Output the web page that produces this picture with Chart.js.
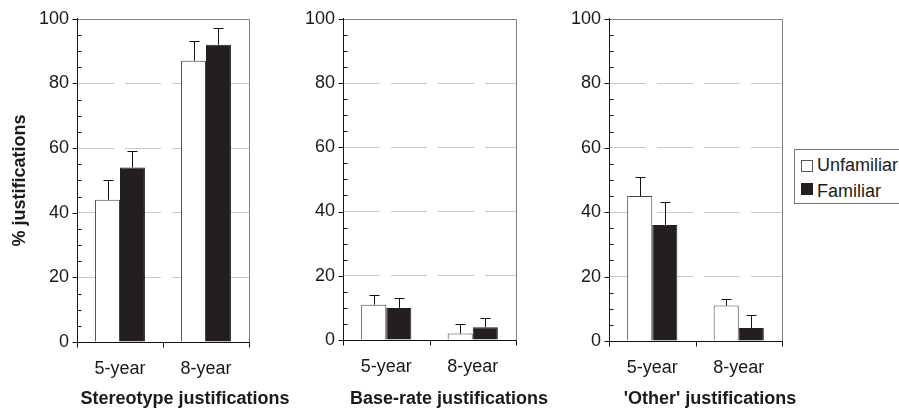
<!DOCTYPE html>
<html>
<head>
<meta charset="utf-8">
<script src="https://cdn.jsdelivr.net/npm/chart.js@4.4.1/dist/chart.umd.min.js"></script>
<style>
html,body{margin:0;padding:0;background:#fff;}
body{width:899px;height:410px;position:relative;overflow:hidden;font-family:"Liberation Sans",Arial,sans-serif;color:#1a1a1a;}
.pc{position:absolute;top:0;height:410px;}
.xt{position:absolute;top:388px;font-weight:bold;font-size:18px;line-height:20px;white-space:nowrap;transform:translateX(-50%);}
#legend{position:absolute;left:794px;top:149px;width:130px;height:53px;border:1px solid #777;background:#fff;}
.sw{position:absolute;width:10px;height:10px;}
.lt{position:absolute;font-size:18px;line-height:20px;white-space:nowrap;}
</style>
</head>
<body>
<div class="pc" style="left:0;width:260px"><canvas id="c1"></canvas></div>
<div class="pc" style="left:300px;width:230px"><canvas id="c2"></canvas></div>
<div class="pc" style="left:560px;width:230px"><canvas id="c3"></canvas></div>
<div class="xt" id="t1" style="left:185px"></div>
<div class="xt" id="t2" style="left:449px"></div>
<div class="xt" id="t3" style="left:710px"></div>
<div id="legend"></div>
<script>
// ---- data ----
const categories = ['5-year', '8-year'];
const seriesNames = ['Unfamiliar', 'Familiar'];
const panelTitles = ['Stereotype justifications', 'Base-rate justifications', "'Other' justifications"];
const yAxisTitle = '% justifications';
const yTicks = [0, 20, 40, 60, 80, 100];

const stereotypeUnfamiliar = [44, 87];
const stereotypeFamiliar = [54, 92];
const stereotypeUnfamiliarErr = [6, 6];
const stereotypeFamiliarErr = [5, 5];

const baseRateUnfamiliar = [11, 2];
const baseRateFamiliar = [10, 4];
const baseRateUnfamiliarErr = [3, 3];
const baseRateFamiliarErr = [3, 3];

const otherUnfamiliar = [45, 11];
const otherFamiliar = [36, 4];
const otherUnfamiliarErr = [6, 2];
const otherFamiliarErr = [7, 4];

// ---- drawing ----
const FONT = '"Liberation Sans", Arial, sans-serif';

const decorPlugin = {
  id: 'decor',
  afterDatasetsDraw(chart) {
    const ctx = chart.ctx;
    const ys = chart.scales.y;
    const errs = chart.options.plugins.decor.errors;
    ctx.save();
    ctx.strokeStyle = '#111';
    ctx.lineWidth = 1;
    chart.data.datasets.forEach((ds, i) => {
      const meta = chart.getDatasetMeta(i);
      meta.data.forEach((el, j) => {
        const v = ds.data[j];
        const top = ys.getPixelForValue(v + errs[i][j]);
        const x = Math.round(el.x) + 0.5;
        ctx.beginPath();
        ctx.moveTo(x, el.y);
        ctx.lineTo(x, Math.round(top) + 0.5);
        ctx.moveTo(x - 5, Math.round(top) + 0.5);
        ctx.lineTo(x + 5, Math.round(top) + 0.5);
        ctx.stroke();
      });
    });
    ctx.restore();
  },
  afterDraw(chart) {
    const ctx = chart.ctx;
    const a = chart.chartArea;
    const ys = chart.scales.y;
    const L = Math.round(a.left) + 0.5, R = Math.round(a.right) + 0.5;
    const T = Math.round(a.top) + 0.5, B = Math.round(a.bottom) + 0.5;
    ctx.save();
    ctx.lineWidth = 1;
    ctx.strokeStyle = '#808080';
    ctx.beginPath();
    ctx.moveTo(L, T); ctx.lineTo(R, T); ctx.lineTo(R, B);
    ctx.stroke();
    ctx.strokeStyle = '#111';
    ctx.beginPath();
    for (let v = 0; v <= 100; v += 5) {
      const y = Math.round(ys.getPixelForValue(v)) + 0.5;
      if (v % 20 === 0) { ctx.moveTo(L - 5, y); ctx.lineTo(L, y); }
      else { ctx.moveTo(L, y); ctx.lineTo(L + 4, y); }
    }
    const M = Math.round((a.left + a.right) / 2) + 0.5;
    [L, M, R].forEach(x => { ctx.moveTo(x, B); ctx.lineTo(x, B + 5); });
    ctx.stroke();
    ctx.restore();
  }
};

function makePanel(id, unf, fam, unfErr, famErr, cfg) {
  new Chart(document.getElementById(id), {
    type: 'bar',
    data: {
      labels: categories,
      datasets: [
        { label: seriesNames[0], data: unf, backgroundColor: '#ffffff', borderColor: '#444', borderWidth: 1,
          categoryPercentage: 0.58, barPercentage: 1 },
        { label: seriesNames[1], data: fam, backgroundColor: '#231f20', borderColor: '#231f20', borderWidth: 1,
          categoryPercentage: 0.58, barPercentage: 1 }
      ]
    },
    options: {
      responsive: true,
      maintainAspectRatio: false,
      animation: false,
      layout: { padding: { top: cfg.padTop, right: cfg.padRight, left: 0, bottom: 0 } },
      plugins: {
        legend: { display: false },
        tooltip: { enabled: false },
        decor: { errors: [unfErr, famErr] }
      },
      scales: {
        x: {
          type: 'category',
          grid: { display: false },
          border: { display: true, color: '#111', width: 1 },
          ticks: { font: { family: FONT, size: 18 }, color: '#1a1a1a', padding: 8, maxRotation: 0 },
          afterFit: s => { s.height = cfg.xH; }
        },
        y: {
          min: 0, max: 100,
          afterBuildTicks: s => { s.ticks = yTicks.map(v => ({ value: v })); },
          ticks: { font: { family: FONT, size: 18 }, color: '#1a1a1a', padding: 8 },
          grid: {
            drawTicks: false,
            color: c => (c.tick && c.tick.value > 0 && c.tick.value < 100) ? '#c8c8c8' : 'rgba(0,0,0,0)',
            lineWidth: 1
          },
          border: { display: true, color: '#111', width: 1, dash: [36, 11], dashOffset: 0 },
          title: {
            display: !!cfg.yTitle,
            text: cfg.yTitle || '',
            font: { family: FONT, size: 18, weight: 'bold' },
            color: '#1a1a1a',
            padding: { top: 9, bottom: 0 }
          },
          afterFit: s => { s.width = cfg.axisW; }
        }
      }
    },
    plugins: [decorPlugin]
  });
}

makePanel('c1', stereotypeUnfamiliar, stereotypeFamiliar, stereotypeUnfamiliarErr, stereotypeFamiliarErr,
  { axisW: 77, padTop: 17, padRight: 11, xH: 68, yTitle: yAxisTitle });
makePanel('c2', baseRateUnfamiliar, baseRateFamiliar, baseRateUnfamiliarErr, baseRateFamiliarErr,
  { axisW: 43, padTop: 13, padRight: 14, xH: 70 });
makePanel('c3', otherUnfamiliar, otherFamiliar, otherUnfamiliarErr, otherFamiliarErr,
  { axisW: 49, padTop: 14, padRight: 8, xH: 69 });

['t1', 't2', 't3'].forEach((id, i) => { document.getElementById(id).textContent = panelTitles[i]; });

const legend = document.getElementById('legend');
const swStyles = [
  { bg: '#ffffff', bd: '#555' },
  { bg: '#231f20', bd: '#231f20' }
];
seriesNames.forEach((name, i) => {
  const sw = document.createElement('div');
  sw.className = 'sw';
  sw.style.left = '6px';
  sw.style.top = (10 + i * 23) + 'px';
  sw.style.background = swStyles[i].bg;
  sw.style.border = '1px solid ' + swStyles[i].bd;
  legend.appendChild(sw);
  const t = document.createElement('div');
  t.className = 'lt';
  t.style.left = '22px';
  t.style.top = (5 + i * 26) + 'px';
  t.textContent = name;
  legend.appendChild(t);
});
</script>
</body>
</html>
